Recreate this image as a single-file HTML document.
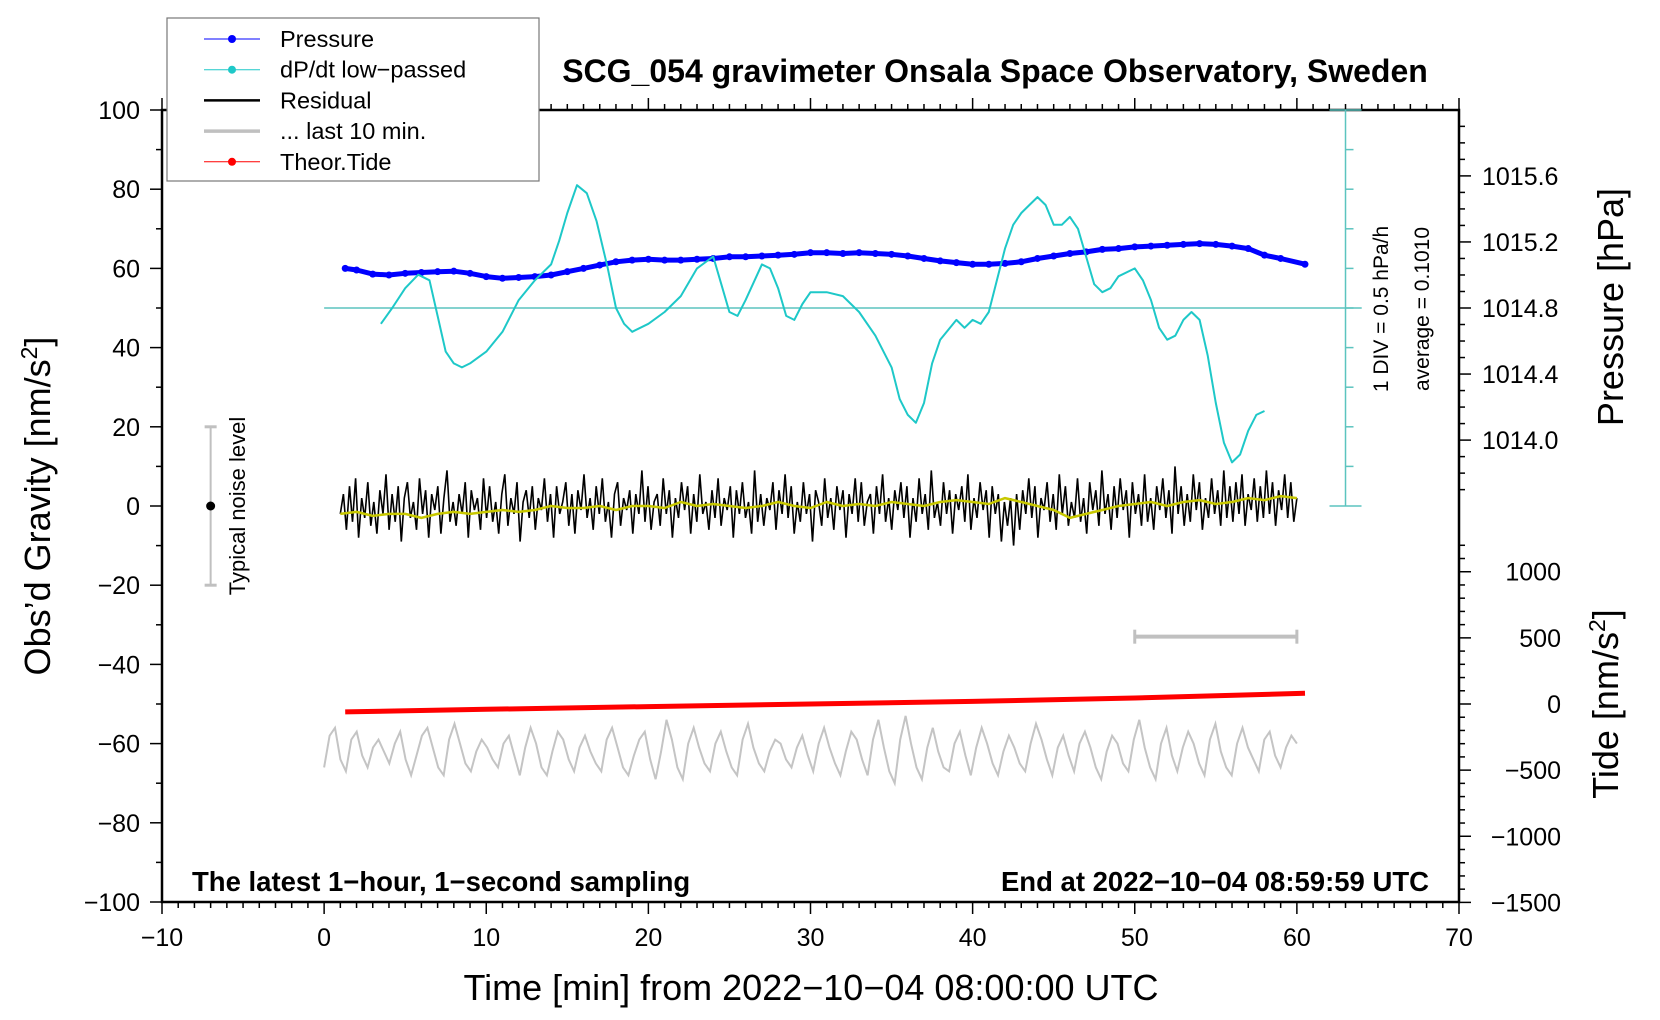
<!DOCTYPE html>
<html><head><meta charset="utf-8"><style>
html,body{margin:0;padding:0;background:#fff}
svg{display:block;font-family:"Liberation Sans",sans-serif}
</style></head><body>
<svg id="chart" width="1660" height="1020" viewBox="0 0 1660 1020">
<g id="axes"></g>
<g id="series"></g>
<g id="labels"></g>
</svg>
<script>
// ---- data ----
const xTicks=[-10,0,10,20,30,40,50,60,70];
const yTicks=[100,80,60,40,20,0,-20,-40,-60,-80,-100];
const pTicks=[1014.0,1014.4,1014.8,1015.2,1015.6];
const tideTicks=[1000,500,0,-500,-1000,-1500];
const pressTime=[1.3,2,3,4,5,6,7,8,9,10,11,12,13,14,15,16,17,18,19,20,21,22,23,24,25,26,27,28,29,30,31,32,33,34,35,36,37,38,39,40,41,42,43,44,45,46,47,48,49,50,51,52,53,54,55,56,57,58,59,60.5];
const pressVal=[1015.04,1015.03,1015.005,1015.0,1015.01,1015.015,1015.02,1015.023,1015.01,1014.99,1014.98,1014.985,1014.99,1015.0,1015.02,1015.04,1015.06,1015.08,1015.09,1015.095,1015.09,1015.09,1015.095,1015.1,1015.11,1015.11,1015.115,1015.12,1015.125,1015.135,1015.135,1015.13,1015.135,1015.13,1015.125,1015.115,1015.1,1015.085,1015.075,1015.065,1015.065,1015.07,1015.08,1015.1,1015.115,1015.13,1015.14,1015.155,1015.16,1015.17,1015.175,1015.18,1015.185,1015.19,1015.185,1015.175,1015.16,1015.12,1015.1,1015.065];
const dpTime=[3.5,4.2,5,5.8,6.5,7,7.5,8,8.5,9,10,11,12,13,14,14.5,15,15.6,16.2,16.8,17.5,18,18.5,19,20,21,22,23,24,24.5,25,25.5,26,27,27.5,28,28.5,29,29.5,30,31,32,33,34,35,35.5,36,36.5,37,37.5,38,39,39.5,40,40.5,41,41.5,42,42.5,43,43.5,44,44.5,45,45.5,46,46.5,47,47.5,48,48.5,49,50,50.5,51,51.5,52,52.5,53,53.5,54,54.5,55,55.5,56,56.5,57,57.5,58];
const dpVal=[-0.099,0.101,0.351,0.521,0.451,0.001,-0.449,-0.599,-0.649,-0.599,-0.449,-0.199,0.201,0.451,0.651,0.951,1.301,1.651,1.551,1.201,0.601,0.101,-0.099,-0.199,-0.099,0.051,0.251,0.601,0.751,0.401,0.051,0.001,0.201,0.651,0.601,0.351,0.001,-0.049,0.151,0.301,0.301,0.251,0.051,-0.249,-0.649,-1.049,-1.249,-1.349,-1.099,-0.599,-0.299,-0.049,-0.149,-0.049,-0.099,0.051,0.451,0.851,1.151,1.301,1.401,1.501,1.401,1.151,1.151,1.251,1.101,0.751,0.401,0.301,0.351,0.501,0.601,0.451,0.201,-0.149,-0.299,-0.249,-0.049,0.051,-0.049,-0.499,-1.099,-1.599,-1.849,-1.749,-1.449,-1.249,-1.199];
const dpAvg=0.1010;
const tideTime=[1.3,10,20,30,40,50,60.5];
const tideVal=[-60,-40,-20,0,20,45,81];
const residVal=[-2,3,-6,5,-4,7,-8,2,-3,6,-5,1,-7,4,-2,8,-6,3,-4,5,-9,2,6,-3,1,-6,7,-2,4,-8,3,-1,5,-7,2,9,-4,1,-5,3,-2,6,-8,4,-1,2,-6,7,-3,5,-4,1,-7,3,8,-5,2,-2,6,-9,1,4,-3,5,-6,2,-1,7,-4,3,-8,5,-2,1,6,-5,3,-7,4,-1,8,-3,2,-6,5,-2,7,-4,1,-8,3,6,-5,2,-1,4,-7,3,-2,9,-4,5,-6,1,3,-5,7,-2,4,-8,2,-3,6,-1,5,-7,3,-4,8,-2,1,-6,4,-3,7,-5,2,-1,5,-8,4,-2,6,-3,1,-7,9,-4,3,-5,2,-1,6,-6,4,-2,8,-3,5,-7,1,-4,6,-2,3,-9,4,1,-5,7,-3,2,-6,5,-1,4,-8,3,-2,7,-4,6,-5,1,3,-7,5,-2,8,-4,2,-6,4,-1,6,-3,5,-8,2,-4,7,-2,3,-6,9,-3,1,-5,6,-2,4,-7,3,-1,5,-4,8,-6,2,-3,6,-1,4,-8,5,-2,3,-9,1,-5,2,-10,3,-6,4,-2,7,-3,5,-8,2,-1,6,-4,3,-6,8,-2,5,-5,1,-3,7,-4,2,-7,6,-1,4,-5,9,-2,3,-6,5,-3,7,-1,4,-8,6,-2,3,-5,8,-4,2,-6,5,-1,7,-3,4,-7,10,-2,5,-5,3,-4,8,-1,6,-6,2,-3,7,-2,4,-5,9,-3,5,-4,6,-2,8,-5,3,-1,7,-4,5,-3,9,-2,6,-5,4,-1,8,-3,6,-4,2];
const smoothVal=[-2,-1.5,-2.5,-2,-2,-3,-2,-1.5,-2,-1.5,-1,-1.5,-1,0,-0.5,-0.5,0,-1,0,0,-0.5,1,0,0.5,0,-0.5,0,1,0,-0.5,1,0,0.5,0,1,0.5,0,1,1.5,1,0.5,2,1,0,-1,-3,-2,-1,0,0.5,1,0,1,1.5,0.5,1,2,1.5,2.5,2];
const lastVal=[-4,4,6,-2,-5,3,5,-1,-4,1,3,0,-3,2,5,-2,-6,-1,4,6,1,-4,-6,3,7,2,-3,-5,0,3,1,-2,-4,2,4,-1,-6,1,6,2,-4,-6,0,5,3,-2,-5,1,4,0,-3,-5,3,6,1,-4,-6,-1,3,5,-2,-7,0,8,3,-4,-7,2,6,1,-3,-5,2,5,0,-4,-6,3,7,1,-3,-5,0,3,2,-2,-4,1,4,-1,-5,2,6,1,-3,-6,0,5,3,-2,-6,3,8,1,-5,-8,3,9,2,-4,-7,1,6,0,-4,-5,2,5,-1,-6,1,6,2,-3,-6,0,4,1,-3,-5,2,7,3,-2,-6,1,4,-1,-5,2,5,1,-4,-7,0,4,2,-3,-5,3,8,1,-4,-7,2,6,-1,-5,1,5,2,-3,-6,3,7,0,-4,-6,2,6,1,-2,-5,3,5,-1,-4,1,4,2];
</script>
<script>
const NS='http://www.w3.org/2000/svg';
const X=t=>162+(t+10)*(1459-162)/80;
const Y=g=>110+(100-g)*3.96;
const PG=p=>50+(p-1014.8)*41.7;
const TG=v=>-50+v/500*16.7;
const DG=v=>50+(v-dpAvg)*20;
function mk(parent,tag,attrs,text){const e=document.createElementNS(NS,tag);for(const k in attrs)e.setAttribute(k,attrs[k]);if(text!==undefined)e.textContent=text;parent.appendChild(e);return e;}
const axes=document.getElementById('axes'),ser=document.getElementById('series'),lab=document.getElementById('labels');
let fr=mk(axes,'rect',{x:162,y:110,width:1297,height:792,fill:'none',stroke:'#000','stroke-width':2.5});


for(let t=-10;t<=70;t++){const maj=t%10===0;const x=X(t);
mk(axes,'line',{x1:x,x2:x,y1:902,y2:902+(maj?12:6),stroke:'#000','stroke-width':1.5});
mk(axes,'line',{x1:x,x2:x,y1:110,y2:110-(maj?12:6),stroke:'#000','stroke-width':1.5});}
xTicks.forEach(t=>{const e=mk(lab,'text',{x:X(t),y:946,'font-size':25,'text-anchor':'middle'},t<0?'\u2212'+(-t):String(t));

});
for(let g=-100;g<=100;g+=10){mk(axes,'line',{x1:162,x2:162-(g%20===0?12:6),y1:Y(g),y2:Y(g),stroke:'#000','stroke-width':1.5});}
yTicks.forEach(g=>{const e=mk(lab,'text',{x:140,y:Y(g)+9,'font-size':25,'text-anchor':'end'},g<0?'\u2212'+(-g):String(g));

});
for(let i=0;i<=22;i++){const p=1013.7+i*0.1;const g=PG(p);const maj=Math.abs(((p-1014.0)/0.4)-Math.round((p-1014.0)/0.4))<0.01;
mk(axes,'line',{x1:1459,x2:1459+(maj?12:6),y1:Y(g),y2:Y(g),stroke:'#000','stroke-width':1.5});}
pTicks.forEach(p=>{const e=mk(lab,'text',{x:1482,y:Y(PG(p))+9,'font-size':25},p.toFixed(1));

});
for(let v=-1500;v<=1200;v+=100){mk(axes,'line',{x1:1459,x2:1459+(v%500===0?12:6),y1:Y(TG(v)),y2:Y(TG(v)),stroke:'#000','stroke-width':1.5});}
tideTicks.forEach(v=>{const e=mk(lab,'text',{x:1561,y:Y(TG(v))+9,'font-size':25,'text-anchor':'end'},v<0?'\u2212'+(-v):String(v));

});
const cx=X(63);
mk(axes,'line',{x1:cx,x2:cx,y1:Y(100),y2:Y(0),stroke:'#5cc4bf','stroke-width':1.5});
for(let g=0;g<=100;g+=10){const w=(g===0||g===100)?16:8;mk(axes,'line',{x1:cx-(g===0||g===100?16:0),x2:cx+w,y1:Y(g),y2:Y(g),stroke:'#5cc4bf','stroke-width':1.5});}
mk(axes,'line',{x1:X(0),x2:X(64),y1:Y(50),y2:Y(50),stroke:'#5cc4bf','stroke-width':1.5});
function poly(xs,ys,attrs,name){const pts=xs.map((x,i)=>x.toFixed(1)+','+ys[i].toFixed(1)).join(' ');const e=mk(ser,'polyline',Object.assign({points:pts,fill:'none'},attrs));return e;}
poly(pressTime.map(X),pressVal.map(p=>Y(PG(p))),{stroke:'#0000ff','stroke-width':5,'stroke-linejoin':'round','stroke-linecap':'round'},'pressure-line');
pressTime.forEach((t,i)=>{const c=mk(ser,'circle',{cx:X(t),cy:Y(PG(pressVal[i])),r:3.5,fill:'#0000ff'});

});
poly(dpTime.map(X),dpVal.map(v=>Y(DG(v))),{stroke:'#1ec8c8','stroke-width':2,'stroke-linejoin':'round'},'dpdt-line');
const rT=residVal.map((v,i)=>1.0+i*59/(residVal.length-1));
poly(rT.map(X),residVal.map(Y),{stroke:'#000','stroke-width':1.6},'residual-line');
const sT=smoothVal.map((v,i)=>1.0+i*59/(smoothVal.length-1));
poly(sT.map(X),smoothVal.map(Y),{stroke:'#c8c800','stroke-width':2.5,'stroke-linejoin':'round'},'residual-smoothed-line');
poly(tideTime.map(X),tideVal.map(v=>Y(TG(v))),{stroke:'#ff0000','stroke-width':5},'theoretical-tide-line');
const lT=lastVal.map((v,i)=>i*60/(lastVal.length-1));
poly(lT.map(X),lastVal.map(v=>Y(v-62)),{stroke:'#c4c4c4','stroke-width':2},'last-10-min-line');
mk(ser,'line',{x1:X(50),x2:X(60),y1:Y(-33),y2:Y(-33),stroke:'#c0c0c0','stroke-width':4});
mk(ser,'line',{x1:X(50),x2:X(50),y1:Y(-33)-7,y2:Y(-33)+7,stroke:'#c0c0c0','stroke-width':3});
mk(ser,'line',{x1:X(60),x2:X(60),y1:Y(-33)-7,y2:Y(-33)+7,stroke:'#c0c0c0','stroke-width':3});
const nx=X(-7);
mk(ser,'line',{x1:nx,x2:nx,y1:Y(20),y2:Y(-20),stroke:'#c0c0c0','stroke-width':2});
mk(ser,'line',{x1:nx-6,x2:nx+6,y1:Y(20),y2:Y(20),stroke:'#c0c0c0','stroke-width':3});
mk(ser,'line',{x1:nx-6,x2:nx+6,y1:Y(-20),y2:Y(-20),stroke:'#c0c0c0','stroke-width':3});
mk(ser,'circle',{cx:nx,cy:Y(0),r:4.5,fill:'#000'});
</script>
<script>
const L=document.getElementById('labels');
function txt(attrs,s,name){const e=mk(L,'text',attrs,s);return e;}
txt({x:995,y:82,'font-size':32,'font-weight':'bold','text-anchor':'middle'},'SCG_054 gravimeter Onsala Space Observatory, Sweden','chart-title');
txt({x:811,y:1000,'font-size':36,'text-anchor':'middle'},'Time [min] from 2022\u221210\u221204 08:00:00 UTC','x-axis-title');
const yl=txt({x:0,y:0,'font-size':36,'text-anchor':'middle',transform:'translate(50,506) rotate(-90)'},'','y-axis-title');
yl.innerHTML='Obs\u2019d Gravity [nm/s<tspan dy="-13" font-size="23">2</tspan><tspan dy="13">]</tspan>';
txt({x:0,y:0,'font-size':36,'text-anchor':'middle',transform:'translate(1623,307) rotate(-90)'},'Pressure [hPa]','pressure-axis-title');
const tl=txt({x:0,y:0,'font-size':36,'text-anchor':'middle',transform:'translate(1618,704) rotate(-90)'},'','tide-axis-title');
tl.innerHTML='Tide [nm/s<tspan dy="-13" font-size="23">2</tspan><tspan dy="13">]</tspan>';
txt({x:0,y:0,'font-size':22,'text-anchor':'middle',transform:'translate(245,506) rotate(-90)'},'Typical noise level','noise-level-label');
txt({x:0,y:0,'font-size':21,'text-anchor':'middle',transform:'translate(1388,309) rotate(-90)'},'1 DIV = 0.5 hPa/h','div-scale-label');
txt({x:0,y:0,'font-size':21,'text-anchor':'middle',transform:'translate(1429,309) rotate(-90)'},'average = 0.1010','average-label');
txt({x:192,y:891,'font-size':27.5,'font-weight':'bold'},'The latest 1\u2212hour, 1\u2212second sampling','sampling-note');
txt({x:1429,y:891,'font-size':27.5,'font-weight':'bold','text-anchor':'end'},'End at 2022\u221210\u221204 08:59:59 UTC','end-time-note');
const lg=mk(L,'g',{});


mk(lg,'rect',{x:167,y:18,width:372,height:163,fill:'#fff',stroke:'#777','stroke-width':1.2});
const items=[['Pressure','#0000ff',1,true],['dP/dt low\u2212passed','#1ec8c8',1,true],['Residual','#000',2.5,false],['... last 10 min.','#c0c0c0',3.5,false],['Theor.Tide','#ff0000',1,true]];
items.forEach((it,i)=>{const y=39+i*30.7;const g=mk(lg,'g',{});


mk(g,'line',{x1:204,x2:260,y1:y,y2:y,stroke:it[1],'stroke-width':it[2]});
if(it[3])mk(g,'circle',{cx:232,cy:y,r:4,fill:it[1]});
mk(g,'text',{x:280,y:y+8,'font-size':23.5},it[0]);});
</script>
</body></html>
